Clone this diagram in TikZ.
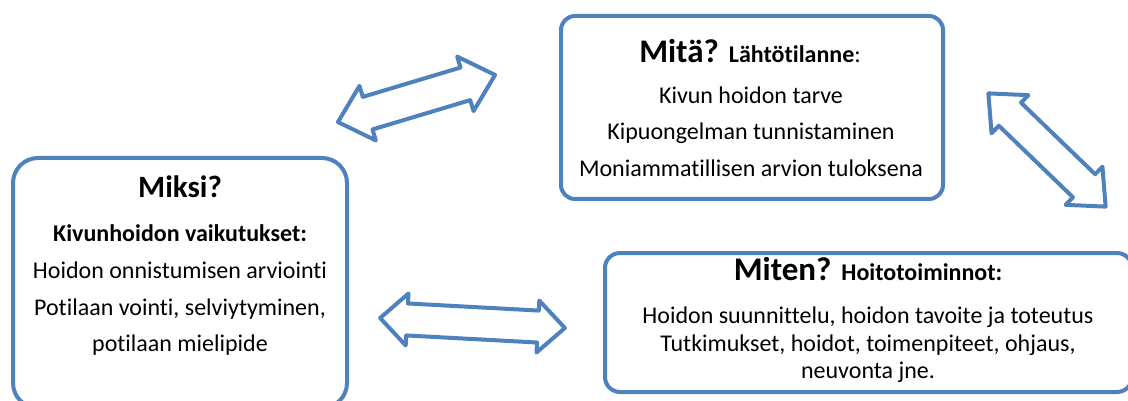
\documentclass[tikz,border=0pt]{standalone}
\usepackage{fontspec}
\setmainfont{Carlito}[Ligatures=NoCommon]
\usepackage{tikz}

\definecolor{boxblue}{HTML}{4F81BD}

% hollow double arrow: name, centre, angle, length, shaft width, head width, head length
\newcommand\dblarr[7]{%
  \begin{scope}[shift={#2},rotate=#3]
    \coordinate (#1) at (0,0);
    \draw[arrowline] ({-#4/2},0) -- ({-#4/2+#7},{#6/2}) -- ({-#4/2+#7},{#5/2})
      -- ({#4/2-#7},{#5/2}) -- ({#4/2-#7},{#6/2}) -- ({#4/2},0)
      -- ({#4/2-#7},{-#6/2}) -- ({#4/2-#7},{-#5/2}) -- ({-#4/2+#7},{-#5/2})
      -- ({-#4/2+#7},{-#6/2}) -- cycle;
  \end{scope}}

\begin{document}
\begin{tikzpicture}[
    x=1pt,y=-1pt,
    box/.style={draw=boxblue,line width=4pt,fill=white,inner sep=0pt},
    arrowline/.style={draw=boxblue,line width=4pt,fill=white,line join=round},
    body/.style={anchor=base,font=\fontsize{24}{28}\selectfont},
    bodyb/.style={anchor=base,font=\fontsize{24}{28}\selectfont\bfseries},
    head/.style={anchor=base,font=\fontsize{33}{38}\selectfont\bfseries}
  ]
    \useasboundingbox (0,0) rectangle (1128,401);
    % boxes
    \node[box,rounded corners=14pt,minimum width=382pt,minimum height=183pt] (mita) at (752,107.5) {};
    \node[box,rounded corners=25pt,minimum width=334pt,minimum height=250pt] (miksi) at (180,283) {};
    \node[box,rounded corners=15pt,minimum width=527pt,minimum height=139pt] (miten) at (868.5,322.5) {};
    % texts
    \node[head] (mitah) at (750,63) {Mitä? {\fontsize{24}{28}\selectfont Lähtötilanne\mdseries:}};
    \node[body] (mita1) at (751,104) {Kivun hoidon tarve};
    \node[body] (mita2) at (751,140) {Kipuongelman tunnistaminen};
    \node[body] (mita3) at (751,177) {Moniammatillisen arvion tuloksena};
    \node[head,font=\fontsize{31}{36}\selectfont\bfseries] (miksih) at (180,198) {Miksi?};
    \node[bodyb] (miksi1) at (180,241.5) {Kivunhoidon vaikutukset:};
    \node[body] (miksi2) at (180,278) {Hoidon onnistumisen arviointi};
    \node[body] (miksi3) at (180,315) {Potilaan vointi, selviytyminen,};
    \node[body] (miksi4) at (180,351.5) {potilaan mielipide};
    \node[head] (mitenh) at (868,280) {Miten? {\fontsize{24}{28}\selectfont Hoitotoiminnot:}};
    \node[body] (miten1) at (868,323) {Hoidon suunnittelu, hoidon tavoite ja toteutus};
    \node[body] (miten2) at (868,351) {Tutkimukset, hoidot, toimenpiteet, ohjaus,};
    \node[body] (miten3) at (868,378) {neuvonta jne.};
    % double arrows
    \dblarr{whatwhy}{(416.5,98.5)}{16.7}{164}{34}{57}{31}
    \dblarr{whathow}{(1047,150)}{-44}{163}{32}{53}{30}
    \dblarr{whyhow}{(472.5,323)}{-3.1}{185}{32}{52}{27}
\end{tikzpicture}
\end{document}
